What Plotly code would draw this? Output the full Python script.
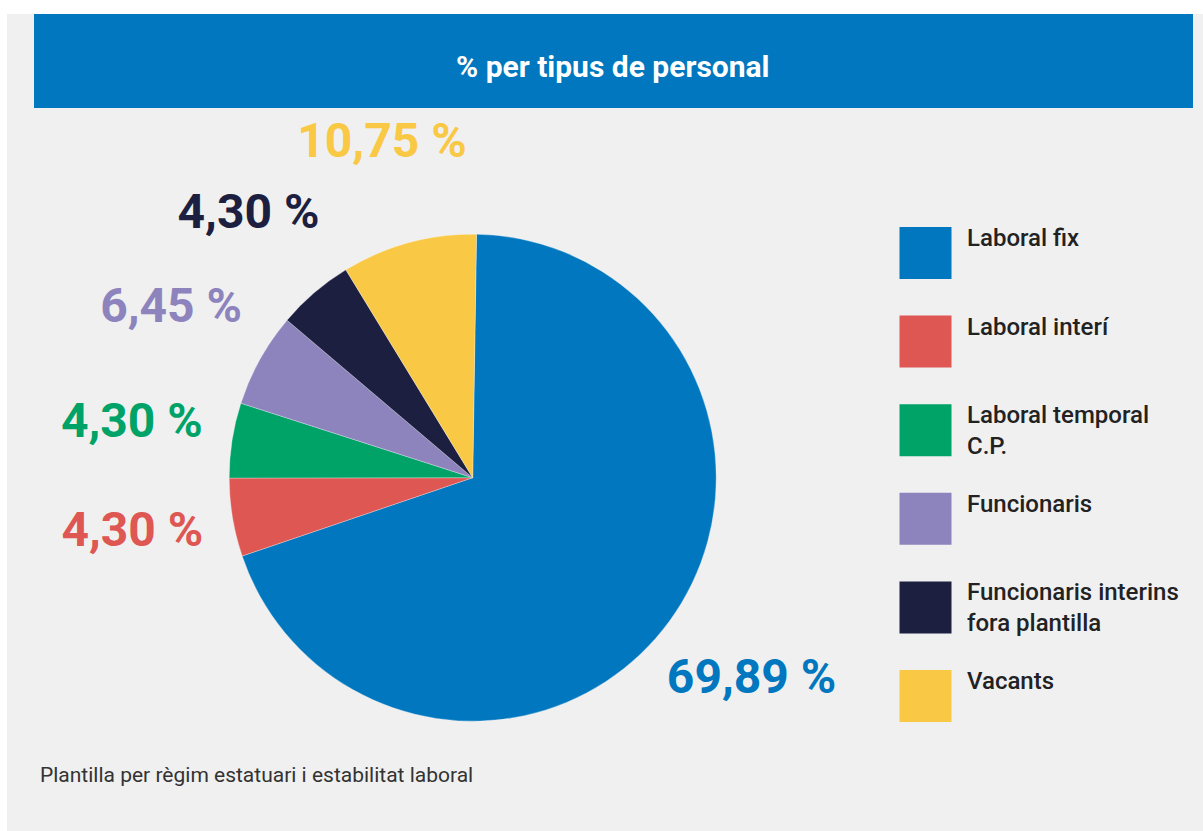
import plotly.graph_objects as go

W, H = 1203, 831

categories = ["Laboral fix", "Laboral interí", "Laboral temporal C.P.",
              "Funcionaris", "Funcionaris interins fora plantilla", "Vacants"]
legend_labels = ["Laboral fix", "Laboral interí", "Laboral temporal<br>C.P.",
                 "Funcionaris", "Funcionaris interins<br>fora plantilla", "Vacants"]
# slice sizes as drawn in the picture (measured from the wedge angles)
slice_values = [69.53, 5.19, 4.97, 6.25, 5.08, 8.97]
# value labels printed next to the slices
value_labels = ["69,89 %", "4,30 %", "4,30 %", "6,45 %", "4,30 %", "10,75 %"]
colors = ["#0077BE", "#DE5753", "#00A367", "#8D84BE", "#1C1F40", "#F9C844"]
title_text = "% per tipus de personal"
footer_text = "Plantilla per règim estatuari i estabilitat laboral"


def px_x(p):
    return p / W


def px_y(p):
    return 1 - p / H


CX, CY, R = 472.7, 477.7, 243.5
ROTATION = 0.9
POLAR_R = 350          # pixel radius of the polar frame used to place value labels
LABEL_R = 345          # label distance from centre (radial axis is in pixels)

# mid-angle of each slice (degrees clockwise from 12 o'clock)
total = sum(slice_values)
mid_angles = []
acc = 0.0
for v in slice_values:
    mid_angles.append(ROTATION + 360.0 * (acc + v / 2.0) / total)
    acc += v

fig = go.Figure()

fig.add_trace(go.Pie(
    labels=categories,
    values=slice_values,
    textinfo="none",
    sort=False,
    direction="clockwise",
    rotation=ROTATION,
    marker=dict(colors=colors, line=dict(color="rgba(255,255,255,0.6)", width=0.5)),
    domain=dict(x=[px_x(CX - R), px_x(CX + R)], y=[px_y(CY + R), px_y(CY - R)]),
    showlegend=False,
    hovertext=value_labels,
    hoverinfo="label+text",
    automargin=False,
))

# value labels, placed on each slice's mid-angle ray via a polar frame
fig.add_trace(go.Scatterpolar(
    r=[LABEL_R] * len(value_labels),
    theta=mid_angles,
    mode="text",
    text=value_labels,
    textposition="middle center",
    textfont=dict(family="Roboto", size=48, color=colors, weight="bold"),
    showlegend=False,
    hoverinfo="skip",
    subplot="polar",
))

# custom legend swatches
idx = list(range(len(categories)))
fig.add_trace(go.Scatter(
    x=[0] * len(categories), y=idx,
    mode="markers",
    marker=dict(symbol="square", size=52, color=colors, line=dict(width=0)),
    showlegend=False, hoverinfo="skip",
    xaxis="x", yaxis="y",
))

annotations = []
for i, lab in enumerate(legend_labels):
    annotations.append(dict(
        x=px_x(965), xref="paper", y=i, yref="y",
        text=lab, showarrow=False, xanchor="left", yanchor="top",
        yshift=31, align="left",
        font=dict(family="Roboto", size=24, color="#222222", weight=500),
    ))

annotations.append(dict(
    x=px_x(613), y=px_y(66), xref="paper", yref="paper",
    text=title_text, showarrow=False, xanchor="center", yanchor="middle",
    font=dict(family="Roboto", size=30, color="#FFFFFF", weight="bold"),
))
annotations.append(dict(
    x=px_x(38), y=px_y(775), xref="paper", yref="paper",
    text=footer_text, showarrow=False, xanchor="left", yanchor="middle",
    font=dict(family="Roboto", size=21, color="#333333"),
))

shapes = [
    dict(type="rect", xref="paper", yref="paper", x0=px_x(7), x1=1, y0=0, y1=px_y(14),
         fillcolor="#F0F0F0", line=dict(width=0), layer="below"),
    dict(type="rect", xref="paper", yref="paper", x0=px_x(34), x1=px_x(1193),
         y0=px_y(108), y1=px_y(14), fillcolor="#0077BE", line=dict(width=0), layer="below"),
]

sp = 88.6
top_c, n = 253, len(categories)
y_lo_px = top_c - sp / 2
y_hi_px = top_c + (n - 1) * sp + sp / 2

fig.update_layout(
    width=W, height=H,
    margin=dict(l=0, r=0, t=0, b=0),
    paper_bgcolor="#FFFFFF",
    plot_bgcolor="rgba(0,0,0,0)",
    shapes=shapes,
    annotations=annotations,
    xaxis=dict(domain=[px_x(899), px_x(952)], range=[-0.5, 0.5], visible=False, fixedrange=True),
    yaxis=dict(domain=[px_y(y_hi_px), px_y(y_lo_px)], range=[n - 0.5, -0.5], visible=False, fixedrange=True),
    polar=dict(
        domain=dict(x=[px_x(CX - POLAR_R), px_x(CX + POLAR_R)],
                    y=[px_y(CY + POLAR_R), px_y(CY - POLAR_R)]),
        bgcolor="rgba(0,0,0,0)",
        radialaxis=dict(range=[0, POLAR_R], visible=False, showgrid=False),
        angularaxis=dict(rotation=90, direction="clockwise", visible=False, showgrid=False),
    ),
    font=dict(family="Roboto"),
)

fig.write_html("out.html", config={"displayModeBar": False},
               post_script="document.body.style.margin='0';document.body.style.overflow='hidden';")
